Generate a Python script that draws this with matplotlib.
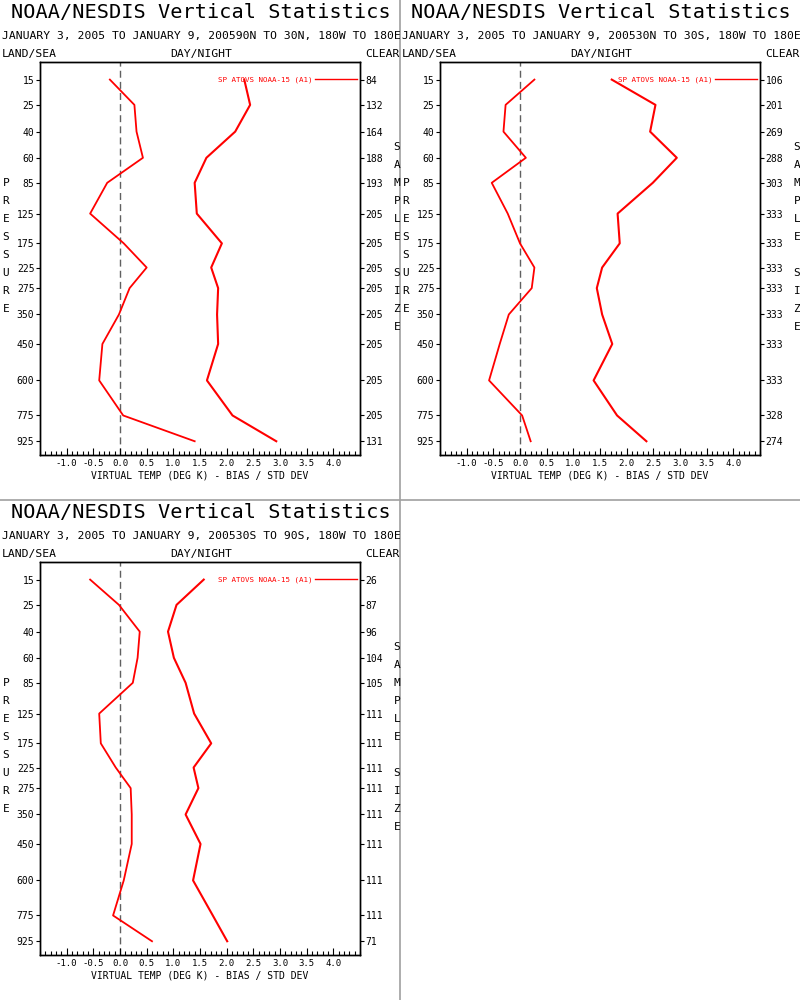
import numpy as np
import matplotlib
matplotlib.use("Agg")
import matplotlib.pyplot as plt
from matplotlib.ticker import FixedLocator, MultipleLocator
from matplotlib.lines import Line2D

plt.rcParams['font.family'] = ['DejaVu Sans Mono', 'DejaVu Sans']
plt.rcParams['axes.unicode_minus'] = False

# pressure levels (hPa)
levels = [15, 25, 40, 60, 85, 125, 175, 225, 275, 350, 450, 600, 775, 925]

# 90N to 30N
bias_90n_30n = [-0.19, 0.27, 0.31, 0.43, -0.24, -0.56, 0.07, 0.50, 0.18, -0.02, -0.33, -0.39, 0.06, 1.40]
std_90n_30n = [2.33, 2.44, 2.16, 1.62, 1.40, 1.44, 1.91, 1.71, 1.84, 1.82, 1.84, 1.63, 2.11, 2.93]
count_90n_30n = [84, 132, 164, 188, 193, 205, 205, 205, 205, 205, 205, 205, 205, 131]

# 30N to 30S
bias_30n_30s = [0.27, -0.27, -0.31, 0.11, -0.53, -0.23, 0.00, 0.27, 0.22, -0.21, -0.38, -0.58, 0.04, 0.20]
std_30n_30s = [1.72, 2.54, 2.44, 2.94, 2.49, 1.83, 1.87, 1.54, 1.44, 1.54, 1.73, 1.38, 1.82, 2.37]
count_30n_30s = [106, 201, 269, 288, 303, 333, 333, 333, 333, 333, 333, 333, 328, 274]

# 30S to 90S
bias_30s_90s = [-0.56, -0.02, 0.37, 0.33, 0.24, -0.39, -0.36, -0.08, 0.20, 0.22, 0.22, 0.07, -0.13, 0.60]
std_30s_90s = [1.57, 1.06, 0.90, 1.01, 1.23, 1.39, 1.71, 1.38, 1.47, 1.23, 1.51, 1.37, 1.74, 2.01]
count_30s_90s = [26, 87, 96, 104, 105, 111, 111, 111, 111, 111, 111, 111, 111, 71]

regions = ["90N TO 30N, 180W TO 180E", "30N TO 30S, 180W TO 180E", "30S TO 90S, 180W TO 180E"]
date_range = "JANUARY 3, 2005 TO JANUARY 9, 2005"
sat_name = "SP ATOVS NOAA-15 (A1)"

panels = [
    (0, 0, regions[0], bias_90n_30n, std_90n_30n, count_90n_30n),
    (400, 0, regions[1], bias_30n_30s, std_30n_30s, count_30n_30s),
    (0, 500, regions[2], bias_30s_90s, std_30s_90s, count_30s_90s),
]

W, H = 800, 1000
KAPPA = 0.286  # pressure axis goes like p**(R/cp)


def fwd(p):
    return np.power(np.clip(p, 1e-6, None), KAPPA)


def inv(v):
    return np.power(np.clip(v, 1e-6, None), 1.0 / KAPPA)


fig = plt.figure(figsize=(8, 10), dpi=100)


def ftext(px, py, s, **kw):
    # place text by pixel position on the figure
    fig.text(px / W, 1 - py / H, s, **kw)


for ox, oy, region, bias, std, count in panels:
    ax = fig.add_axes([(ox + 40) / W, 1 - (oy + 455) / H, 320 / W, 393 / H])
    ax.set_yscale('function', functions=(fwd, inv))
    ax.set_ylim(1013, 10)
    ax.set_xlim(-1.5, 4.5)

    ax.axvline(0, color='#606060', lw=1, ls=(0, (5, 3)), zorder=1)
    ax.plot(bias, levels, color='red', lw=1.3, zorder=3)
    ax.plot(std, levels, color='red', lw=1.5, zorder=3)

    ax.yaxis.set_major_locator(FixedLocator(levels))
    ax.yaxis.set_minor_locator(FixedLocator([]))
    ax.set_yticklabels([str(v) for v in levels])
    ax.tick_params(axis='y', direction='out', length=3, width=0.8, pad=1, labelsize=7)

    ax.xaxis.set_major_locator(FixedLocator(np.arange(-1.0, 4.01, 0.5)))
    ax.xaxis.set_minor_locator(MultipleLocator(0.1))
    ax.set_xticklabels(["%.1f" % v for v in np.arange(-1.0, 4.01, 0.5)])
    ax.tick_params(axis='x', which='major', direction='in', length=5, width=0.8, pad=3, labelsize=6.5)
    ax.tick_params(axis='x', which='minor', direction='in', length=3, width=0.8)

    ax2 = ax.twinx()
    ax2.set_yscale('function', functions=(fwd, inv))
    ax2.set_ylim(1013, 10)
    ax2.yaxis.set_major_locator(FixedLocator(levels))
    ax2.yaxis.set_minor_locator(FixedLocator([]))
    ax2.set_yticklabels([str(c) for c in count])
    ax2.tick_params(axis='y', direction='out', length=3, width=0.8, pad=1, labelsize=7)

    for a in (ax, ax2):
        for sp in a.spines.values():
            sp.set_linewidth(1.0)

    # legend entry: text then line
    ax.text(0.851, 0.9555, sat_name, transform=ax.transAxes, color='red',
            fontsize=5.4, ha='right', va='center')
    ax.plot([0.858, 0.992], [0.9555, 0.9555], transform=ax.transAxes, color='red', lw=1)

    ftext(ox + 201, oy + 13, "NOAA/NESDIS Vertical Statistics", fontsize=14.6, ha='center', va='center')
    ftext(ox + 201, oy + 36, date_range + region, fontsize=8.2, ha='center', va='center')
    ftext(ox + 2, oy + 54, "LAND/SEA", fontsize=8.2, ha='left', va='center')
    ftext(ox + 201, oy + 54, "DAY/NIGHT", fontsize=8.2, ha='center', va='center')
    ftext(ox + 400, oy + 54, "CLEAR", fontsize=8.2, ha='right', va='center')
    ftext(ox + 200, oy + 475, "VIRTUAL TEMP (DEG K) - BIAS / STD DEV", fontsize=7, ha='center', va='center')

    for i, ch in enumerate("PRESSURE"):
        ftext(ox + 6, oy + 183 + 18 * i, ch, fontsize=8, ha='center', va='center')
    for i, ch in enumerate("SAMPLE"):
        ftext(ox + 397, oy + 147 + 18 * i, ch, fontsize=8, ha='center', va='center')
    for i, ch in enumerate("SIZE"):
        ftext(ox + 397, oy + 273 + 18 * i, ch, fontsize=8, ha='center', va='center')

# panel separators
fig.add_artist(Line2D([0.5, 0.5], [0, 1], color='#a0a0a0', lw=1.2, transform=fig.transFigure))
fig.add_artist(Line2D([0, 1], [0.5, 0.5], color='#a0a0a0', lw=1.2, transform=fig.transFigure))

fig.savefig("out.png", dpi=100)
